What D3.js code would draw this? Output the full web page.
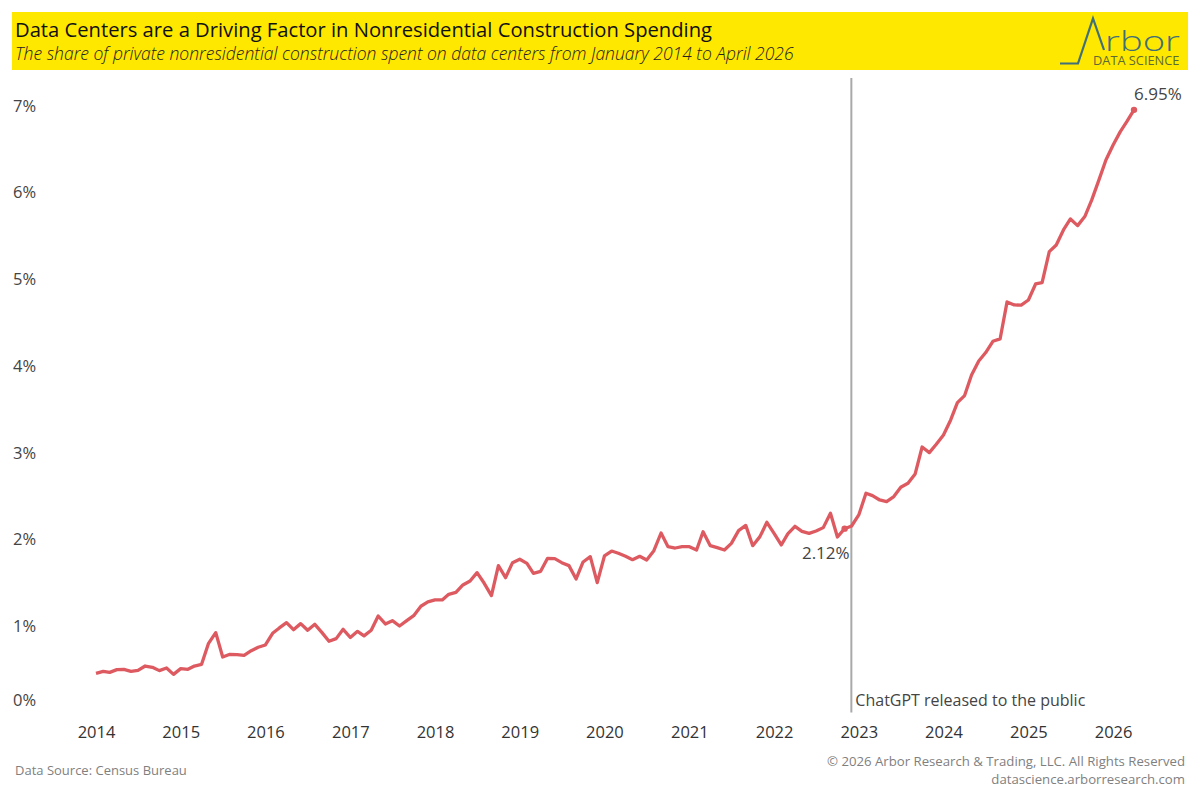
<!DOCTYPE html>
<html>
<head>
<meta charset="utf-8">
<script src="https://cdn.jsdelivr.net/npm/d3@7"></script>
<style>
  html, body { margin: 0; padding: 0; background: #fff; }
  text { font-family: "Open Sans", sans-serif; }
</style>
</head>
<body>
<div id="chart"></div>
<script>
// share of private nonresidential construction, Jan 2014 - Apr 2026, one value a month
const share2014 = [.452,.475,.463,.494,.498,.475,.486,.536,.521,.483,.513,.440];
const share2015 = [.506,.498,.536,.556,.798,.921,.640,.671,.667,.659,.713,.752];
const share2016 = [.779,.913,.975,1.036,.955,1.025,.948,1.017,.921,.821,.852,.959];
const share2017 = [.865,.936,.884,.948,1.113,1.021,1.059,.998,1.059,1.117,1.225,1.275];
const share2018 = [1.298,1.298,1.363,1.386,1.471,1.517,1.613,1.49,1.348,1.694,1.555,1.728];
const share2019 = [1.767,1.72,1.605,1.628,1.778,1.774,1.728,1.694,1.54,1.736,1.797,1.498];
const share2020 = [1.805,1.862,1.836,1.801,1.762,1.801,1.759,1.866,2.07,1.912,1.897,1.912];
const share2021 = [1.912,1.874,2.085,1.924,1.901,1.874,1.951,2.097,2.158,1.924,2.028,2.193];
const share2022 = [2.066,1.932,2.059,2.147,2.089,2.066,2.093,2.132,2.297,2.024,2.12,2.151];
const share2023 = [2.278,2.528,2.501,2.451,2.432,2.49,2.597,2.643,2.751,3.062,2.997,3.093];
const share2024 = [3.2,3.374,3.574,3.655,3.893,4.054,4.151,4.281,4.308,4.735,4.70,4.698];
const share2025 = [4.757,4.942,4.957,5.315,5.392,5.565,5.692,5.615,5.719,5.911,6.142,6.372];
const share2026 = [6.545,6.699,6.814,6.95];

const shares = [].concat(share2014, share2015, share2016, share2017, share2018, share2019,
    share2020, share2021, share2022, share2023, share2024, share2025, share2026);
const months = d3.timeMonth.range(new Date(2014, 0, 1), new Date(2026, 4, 1));
const data = months.map((d, i) => ({date: d, value: shares[i]}));

const xYears = [2014, 2015, 2016, 2017, 2018, 2019, 2020, 2021, 2022, 2023, 2024, 2025, 2026];
const yTicks = [0, 1, 2, 3, 4, 5, 6, 7];
const chatgptDate = new Date(2022, 10, 30);
const labelled = [new Date(2022, 10, 1), new Date(2026, 3, 1)];

const svg = d3.select("#chart")
    .append("svg")
    .attr("width", 1200)
    .attr("height", 800)
    .style("display", "block");

const x = d3.scaleTime()
    .domain([months[0], months[months.length - 1]])
    .range([96, 1134]);
const y = d3.scaleLinear()
    .domain([0, 7])
    .range([712.5, 105.5]);

// header band
svg.append("rect")
    .attr("x", 12).attr("y", 12)
    .attr("width", 1176).attr("height", 58)
    .attr("fill", "#ffe800");
svg.append("text")
    .attr("x", 15).attr("y", 37)
    .attr("font-size", 20.2)
    .attr("font-weight", 500)
    .attr("fill", "#111")
    .text("Data Centers are a Driving Factor in Nonresidential Construction Spending");
svg.append("text")
    .attr("x", 15).attr("y", 60)
    .attr("font-size", 17.5)
    .attr("font-style", "italic")
    .attr("font-weight", 300)
    .attr("fill", "#222")
    .text("The share of private nonresidential construction spent on data centers from January 2014 to April 2026");

// logo
svg.append("path")
    .attr("d", "M1060,63.5H1078L1093,18.5L1104,50")
    .attr("fill", "none")
    .attr("stroke", "#3f6f78")
    .attr("stroke-width", 2.2);
svg.append("text")
    .attr("x", 1105).attr("y", 51)
    .attr("font-size", 28)
    .attr("font-weight", 300)
    .attr("fill", "#3f6f78")
    .attr("textLength", 75)
    .attr("lengthAdjust", "spacingAndGlyphs")
    .text("rbor");
svg.append("text")
    .attr("x", 1093).attr("y", 65)
    .attr("font-size", 12.8)
    .attr("fill", "#5c6a35")
    .text("DATA SCIENCE");

// y axis, labels sit left aligned at the edge and 0% is pulled up above the baseline
const yAxis = svg.append("g")
    .attr("transform", "translate(13,0)")
    .call(d3.axisLeft(y).tickValues(yTicks).tickSize(0).tickFormat(d => d + "%"));
yAxis.select(".domain").remove();
yAxis.selectAll("text")
    .attr("x", 0)
    .attr("dy", "0.35em")
    .attr("text-anchor", "start")
    .attr("font-size", 16.5)
    .style("font-family", "'Open Sans', sans-serif")
    .attr("fill", "#444");
yAxis.selectAll(".tick").filter(d => d === 0)
    .attr("transform", "translate(0,700.5)");

// x axis
const xAxis = svg.append("g")
    .attr("transform", "translate(0,732)")
    .call(d3.axisBottom(x)
        .tickValues(xYears.map(yr => new Date(yr, 0, 1)))
        .tickSize(0)
        .tickFormat(d3.timeFormat("%Y")));
xAxis.select(".domain").remove();
xAxis.selectAll("text")
    .attr("y", 0)
    .attr("dy", "0.35em")
    .attr("font-size", 16.5)
    .style("font-family", "'Open Sans', sans-serif")
    .attr("fill", "#333");

// ChatGPT reference line
svg.append("line")
    .attr("x1", x(chatgptDate)).attr("x2", x(chatgptDate))
    .attr("y1", 78).attr("y2", y(0))
    .attr("stroke", "#a9a9a9")
    .attr("stroke-width", 2);
svg.append("text")
    .attr("x", x(chatgptDate) + 4).attr("y", 706)
    .attr("font-size", 16)
    .attr("fill", "#444")
    .text("ChatGPT released to the public");

// the line
const line = d3.line().x(d => x(d.date)).y(d => y(d.value));
svg.append("path")
    .datum(data)
    .attr("d", line)
    .attr("fill", "none")
    .attr("stroke", "#dd5a61")
    .attr("stroke-width", 3.3)
    .attr("stroke-linejoin", "round");

const marked = data.filter(d => labelled.some(m => +m === +d.date));
svg.selectAll(".mark")
    .data(marked)
    .join("circle")
    .attr("class", "mark")
    .attr("cx", d => x(d.date))
    .attr("cy", d => y(d.value))
    .attr("r", 3.2)
    .attr("fill", "#dd5a61");

svg.selectAll(".mark-label")
    .data(marked)
    .join("text")
    .attr("class", "mark-label")
    .attr("x", (d, i) => x(d.date) + (i === 0 ? 5 : 0))
    .attr("y", (d, i) => y(d.value) + (i === 0 ? 30 : -10))
    .attr("text-anchor", (d, i) => i === 0 ? "end" : "start")
    .attr("font-size", 17)
    .attr("fill", "#444")
    .text(d => d.value.toFixed(2) + "%");

// footer
svg.append("text")
    .attr("x", 15).attr("y", 775)
    .attr("font-size", 13)
    .attr("fill", "#7f7f7f")
    .text("Data Source: Census Bureau");
svg.append("text")
    .attr("x", 1185).attr("y", 766)
    .attr("text-anchor", "end")
    .attr("font-size", 13.2)
    .attr("fill", "#7f7f7f")
    .text("© 2026 Arbor Research & Trading, LLC. All Rights Reserved");
svg.append("text")
    .attr("x", 1185).attr("y", 784)
    .attr("text-anchor", "end")
    .attr("font-size", 13.2)
    .attr("fill", "#7f7f7f")
    .text("datascience.arborresearch.com");
</script>
</body>
</html>
